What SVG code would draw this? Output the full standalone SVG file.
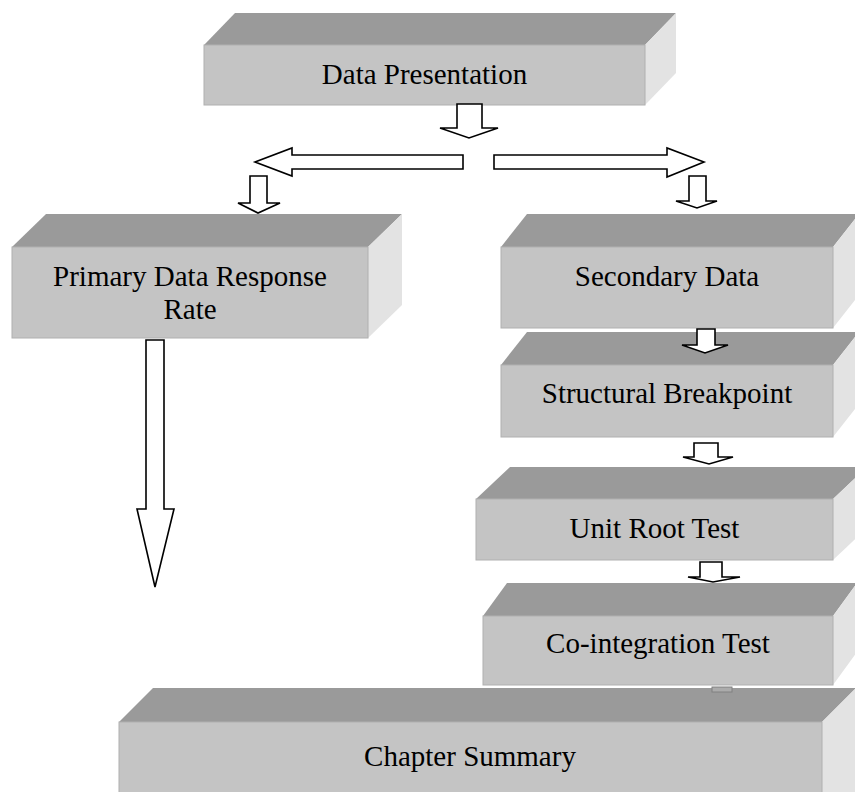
<svg xmlns="http://www.w3.org/2000/svg" width="855" height="792" viewBox="0 0 855 792">
  <style>
    .top { fill: #9a9a9a; }
    .front { fill: #c4c4c4; stroke: #b0b0b0; stroke-width: 1; }
    .side { fill: #e3e3e3; }
    .label { font-family: "Liberation Serif", "Times New Roman", serif; font-size: 29px; fill: #000; text-anchor: middle; }
    .arrow { fill: #fff; stroke: #000; stroke-width: 1.6; stroke-linejoin: miter; }
  </style>
  <rect width="855" height="792" fill="#fff"/>

  <!-- boxes drawn as extruded blocks: top face, side face, front face -->
  <g id="data-presentation">
    <polygon class="top" points="204,45 235,13 676,13 645,45"/>
    <polygon class="side" points="645,45 676,13 676,73 645,105"/>
    <rect class="front" x="204" y="45" width="441" height="60"/>
    <text class="label" x="424.5" y="84">Data Presentation</text>
  </g>

  <g id="primary-data">
    <polygon class="top" points="12,247 46,214 402,214 368,247"/>
    <polygon class="side" points="368,247 402,214 402,305 368,338"/>
    <rect class="front" x="12" y="247" width="356" height="91"/>
    <text class="label" x="190" y="286">Primary Data Response</text>
    <text class="label" x="190" y="319">Rate</text>
  </g>

  <g id="secondary-data">
    <polygon class="top" points="501,247 527,214 859,214 833,247"/>
    <polygon class="side" points="833,247 859,214 859,295 833,328"/>
    <rect class="front" x="501" y="247" width="332" height="81"/>
    <text class="label" x="667" y="286">Secondary Data</text>
  </g>

  <g id="structural-breakpoint">
    <polygon class="top" points="501,365 527,332 859,332 833,365"/>
    <polygon class="side" points="833,365 859,332 859,404 833,437"/>
    <rect class="front" x="501" y="365" width="332" height="72"/>
    <text class="label" x="667" y="403">Structural Breakpoint</text>
  </g>

  <g id="unit-root-test">
    <polygon class="top" points="476,499 510,467 867,467 833,499"/>
    <polygon class="side" points="833,499 867,467 867,528 833,560"/>
    <rect class="front" x="476" y="499" width="357" height="61"/>
    <text class="label" x="654.5" y="538">Unit Root Test</text>
  </g>

  <g id="co-integration-test">
    <polygon class="top" points="483,616 507,583 857,583 833,616"/>
    <polygon class="side" points="833,616 857,583 857,652 833,685"/>
    <rect class="front" x="483" y="616" width="350" height="69"/>
    <text class="label" x="658" y="653">Co-integration Test</text>
  </g>

  <!-- connectors: outlined block arrows -->
  <g id="connectors">
    <polygon class="arrow" points="457,104 482,104 482,128 498,128 469,138 440,128 457,128"/>
    <polygon class="arrow" points="463,155 463,169 292,169 292,176 255,162 292,148 292,155"/>
    <polygon class="arrow" points="494,155 667,155 667,148 704,162 667,177 667,169 494,169"/>
    <polygon class="arrow" points="250,176 267,176 267,203 280,203 258,213 238,203 250,203"/>
    <polygon class="arrow" points="689,176 706,176 706,201 717,201 697,208 676,201 689,201"/>
    <polygon class="arrow" points="697,329 715,329 715,345 728,345 705,353 682,345 697,345"/>
    <polygon class="arrow" points="694,443 718,443 718,457 733,457 709,464 683,457 694,457"/>
    <polygon class="arrow" points="700,562 722,562 722,577 740,577 713,582 688,577 700,577"/>
    <polygon class="arrow" points="146,340 164,340 164,509 174,509 155,587 137,509 146,509"/>
  </g>

  <g id="chapter-summary">
    <polygon class="top" points="119,722 153,688 856,688 822,722"/>
    <polygon class="side" points="822,722 856,688 856,792 822,800"/>
    <rect class="front" x="119" y="722" width="703" height="80"/>
    <rect x="712" y="687" width="20" height="5" fill="#ababab" stroke="#808080" stroke-width="1"/>
    <text class="label" x="470" y="766">Chapter Summary</text>
  </g>
</svg>
